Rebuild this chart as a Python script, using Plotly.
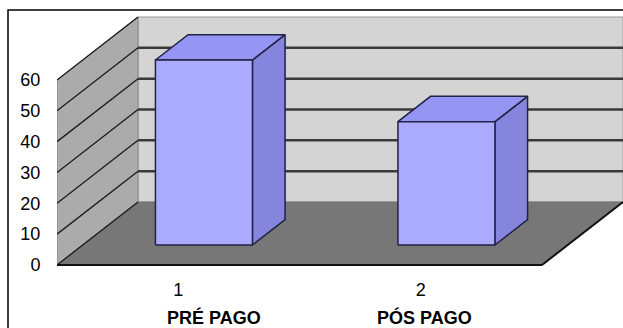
import plotly.graph_objects as go

# ---- data ----
categories = ["1", "2"]
category_names = ["PRÉ PAGO", "PÓS PAGO"]
values = [60, 40]
y_ticks = [0, 10, 20, 30, 40, 50, 60]

# ---- layout geometry (pixels) ----
W, H = 623, 328
PLOT_L, PLOT_R, PLOT_T, PLOT_B = 57, 623, 12, 270
FRONT_ZERO_PX, FRONT_MAX_PX = 265, 80
PX_PER_UNIT = (FRONT_ZERO_PX - FRONT_MAX_PX) / 60.0
PX_PER_CAT = 242.5
DEPTH_X = 81 / PX_PER_CAT          # depth offset in x units
DEPTH_Y = 63 / PX_PER_UNIT         # depth offset in value units
YMAX = (FRONT_ZERO_PX - PLOT_T) / PX_PER_UNIT
YMIN = -(PLOT_B - FRONT_ZERO_PX) / PX_PER_UNIT
XMAX = (PLOT_R - PLOT_L) / PX_PER_CAT
AXIS_MAX = 60
BAR_W = 0.40
F1, F2 = 0.317, 0.72   # bar front / back depth fractions
NAME_LABEL_X_PX = [214, 424]   # centres of the bold category names
NAME_LABEL_Y_PX = 318

BACK_WALL = "#D4D4D4"
LEFT_WALL = "#ABABAB"
FLOOR = "#777777"
BAR_FRONT = "#AAAAFF"
BAR_TOP = "#9595F4"
BAR_SIDE = "#8585DD"
BAR_EDGE = "#222244"
FONT = "Liberation Sans, Arial"

fig = go.Figure()


def poly(xs, ys, fill, line_color, line_width=1.0):
    fig.add_trace(go.Scatter(
        x=list(xs) + [xs[0]], y=list(ys) + [ys[0]], mode="lines",
        fill="toself", fillcolor=fill,
        line=dict(color=line_color, width=line_width),
        hoverinfo="skip", showlegend=False))


def seg(xs, ys, color, width):
    fig.add_trace(go.Scatter(
        x=xs, y=ys, mode="lines", line=dict(color=color, width=width),
        hoverinfo="skip", showlegend=False))


n = len(categories)
# back wall
poly([DEPTH_X, XMAX, XMAX, DEPTH_X],
     [DEPTH_Y, DEPTH_Y, AXIS_MAX + DEPTH_Y, AXIS_MAX + DEPTH_Y],
     BACK_WALL, "#999999", 1)
# left wall
poly([0, 0, DEPTH_X, DEPTH_X],
     [0, AXIS_MAX, AXIS_MAX + DEPTH_Y, DEPTH_Y],
     LEFT_WALL, "#888888", 1)
# floor
poly([0, n, n + DEPTH_X, DEPTH_X],
     [0, 0, DEPTH_Y, DEPTH_Y],
     FLOOR, FLOOR, 1)

# gridlines
for v in y_ticks:
    if 0 < v < AXIS_MAX:
        seg([DEPTH_X, XMAX], [v + DEPTH_Y, v + DEPTH_Y], "#3A3A3A", 2.5)
    seg([0, DEPTH_X], [v, v + DEPTH_Y], "#1A1A1A", 1.3)

# floor front and right edges
seg([0, n], [0, 0], "#111111", 2.2)
seg([n, n + DEPTH_X], [0, DEPTH_Y], "#111111", 2.0)

# bars
for i, v in enumerate(values):
    xc = i + 0.5
    xl, xr = xc - BAR_W / 2, xc + BAR_W / 2
    x1l, x1r = xl + F1 * DEPTH_X, xr + F1 * DEPTH_X
    x2l, x2r = xl + F2 * DEPTH_X, xr + F2 * DEPTH_X
    y1b, y1t = F1 * DEPTH_Y, v + F1 * DEPTH_Y
    y2b, y2t = F2 * DEPTH_Y, v + F2 * DEPTH_Y
    poly([x1r, x1r, x2r, x2r], [y1b, y1t, y2t, y2b], BAR_SIDE, BAR_EDGE, 1.5)
    poly([x1l, x1r, x2r, x2l], [y1t, y1t, y2t, y2t], BAR_TOP, BAR_EDGE, 1.5)
    poly([x1l, x1r, x1r, x1l], [y1b, y1b, y1t, y1t], BAR_FRONT, BAR_EDGE, 1.5)


def px_to_paper_x(p):
    return (p - PLOT_L) / (PLOT_R - PLOT_L)


def px_to_paper_y(p):
    return (PLOT_B - p) / (PLOT_B - PLOT_T)


# category name annotations
for name, xp in zip(category_names, NAME_LABEL_X_PX):
    fig.add_annotation(x=px_to_paper_x(xp), y=px_to_paper_y(NAME_LABEL_Y_PX),
                       xref="paper", yref="paper",
                       text="<b>%s</b>" % name, showarrow=False,
                       xanchor="center", yanchor="middle",
                       font=dict(family=FONT, size=18, color="#000000"))

# outer frame
fig.add_shape(type="rect", xref="paper", yref="paper",
              x0=px_to_paper_x(8), x1=px_to_paper_x(640),
              y0=px_to_paper_y(340), y1=px_to_paper_y(10),
              line=dict(color="#000000", width=1.5), fillcolor="rgba(0,0,0,0)",
              layer="above")

fig.update_layout(
    width=W, height=H,
    margin=dict(l=PLOT_L, r=W - PLOT_R, t=PLOT_T, b=H - PLOT_B),
    paper_bgcolor="#FFFFFF", plot_bgcolor="#FFFFFF",
    showlegend=False,
    font=dict(family=FONT, size=18, color="#000000"),
    xaxis=dict(range=[0, XMAX], showgrid=False, zeroline=False, showline=False,
               tickmode="array", tickvals=[i + 0.5 for i in range(n)],
               ticktext=categories, ticks="outside", ticklen=3,
               tickcolor="rgba(0,0,0,0)", fixedrange=True),
    yaxis=dict(range=[YMIN, YMAX], showgrid=False, zeroline=False, showline=False,
               tickmode="array", tickvals=y_ticks, ticktext=[str(t) for t in y_ticks],
               ticks="outside", ticklen=12, tickcolor="rgba(0,0,0,0)",
               fixedrange=True),
)

fig.write_html("out.html")
